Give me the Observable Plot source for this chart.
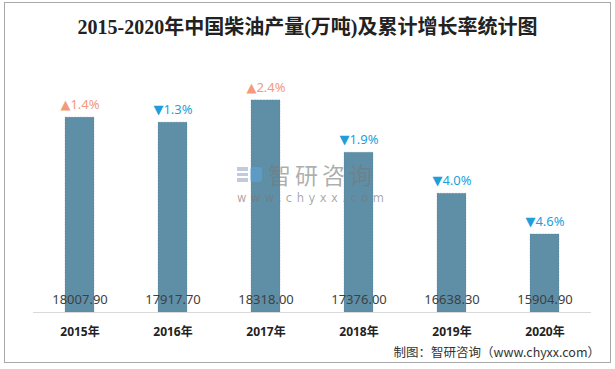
<!DOCTYPE html>
<html>
<head>
<meta charset="utf-8">
<script src="https://cdn.jsdelivr.net/npm/d3@7"></script>
<script src="https://cdn.jsdelivr.net/npm/@observablehq/plot@0.6"></script>
<style>
  html, body { margin: 0; padding: 0; background: #fff; }
  #page { position: relative; width: 615px; height: 369px; overflow: hidden; background:#fff; }
  #frame { position: absolute; left: 4px; top: 2px; width: 607px; height: 361px; box-sizing: border-box; border: 1px solid #a8a8a8; }
  #title { position: absolute; left: 0; top: 14px; width: 615px; text-align: center; font: bold 20px/26px "Liberation Serif", "Noto Sans CJK SC", serif; color: #222; }
  #chart { position: absolute; left: 0; top: 45px; }
  #caption { position: absolute; right: 15px; top: 344px; font: 12.5px/16px "Noto Sans CJK SC", sans-serif; color: #333; }
  #wm { position: absolute; left: 237px; top: 162px; pointer-events: none; }
  #wm .logo { position: absolute; left: 0; top: 5px; width: 25px; height: 15px; }
  #wm .name { position: absolute; left: 31px; top: 0; font: 23px/24px "Noto Sans CJK SC", sans-serif; letter-spacing: 4px; color: rgba(120,120,120,0.6); white-space: nowrap; }
  #wm .url { position: absolute; left: 0; top: 30px; font: 11.5px/13px "DejaVu Sans", sans-serif; letter-spacing: 4.5px; color: rgba(120,120,120,0.65); white-space: nowrap; }
</style>
</head>
<body>
<div id="page">
  <div id="frame"></div>
  <div id="title">2015-2020年中国柴油产量(万吨)及累计增长率统计图</div>
  <div id="chart"></div>
  <div id="wm">
    <svg class="logo" viewBox="0 0 25 15"><rect x="0" y="0" width="11" height="4" fill="rgba(120,140,180,0.45)"/><rect x="0" y="6" width="11" height="3" fill="rgba(120,140,180,0.45)"/><rect x="0" y="11" width="11" height="4" fill="rgba(120,140,180,0.45)"/><rect x="13" y="0" width="12" height="15" rx="3" fill="rgba(90,170,230,0.45)"/></svg>
    <div class="name">智研咨询</div>
    <div class="url">www.chyxx.com</div>
  </div>
  <div id="caption">制图：智研咨询（www.chyxx.com）</div>
</div>
<script>
const years = ["2015年", "2016年", "2017年", "2018年", "2019年", "2020年"];
const output = [18007.90, 17917.70, 18318.00, 17376.00, 16638.30, 15904.90];
const growth = [1.4, -1.3, 2.4, -1.9, -4.0, -4.6];
const yMin = 14500;
const yMax = 19000;

const data = years.map((y, i) => ({year: y, value: output[i], g: growth[i]}));

const chart = Plot.plot({
  width: 615,
  height: 297,
  marginLeft: 33,
  marginRight: 24,
  marginTop: 17,
  marginBottom: 30,
  style: {background: "transparent", overflow: "visible"},
  x: {type: "band", domain: years, paddingInner: 0.69, paddingOuter: 0.345, label: null},
  y: {domain: [yMin, yMax], axis: null},
  marks: [
    Plot.barY(data, {x: "year", y1: () => yMin, y2: "value", fill: "#5e8fa7", stroke: "#4a7890", strokeOpacity: 0.5, strokeWidth: 0.5, strokeDasharray: "2,1"}),
    Plot.ruleY([yMin], {stroke: "#d9d9d9", strokeWidth: 1}),
    Plot.text(data, {x: "year", y: () => yMin, dy: -13, text: d => d.value.toFixed(2), fill: "#404040", fontSize: 13, fontFamily: "Noto Sans, sans-serif"}),
    Plot.text(data, {x: "year", y: "value", dy: -13, text: d => (d.g >= 0 ? "▲" : "▼") + Math.abs(d.g).toFixed(1) + "%", fill: d => d.g >= 0 ? "#f29a7c" : "#1e9fda", fontSize: 13, fontFamily: "Noto Sans, DejaVu Sans, sans-serif"}),
    Plot.axisX({tickSize: 0, tickPadding: 15, fontSize: 12, fontWeight: "bold", fill: "#222", fontFamily: "Noto Sans, Noto Sans CJK SC, sans-serif", label: null})
  ]
});
document.getElementById("chart").appendChild(chart);
</script>
</body>
</html>
